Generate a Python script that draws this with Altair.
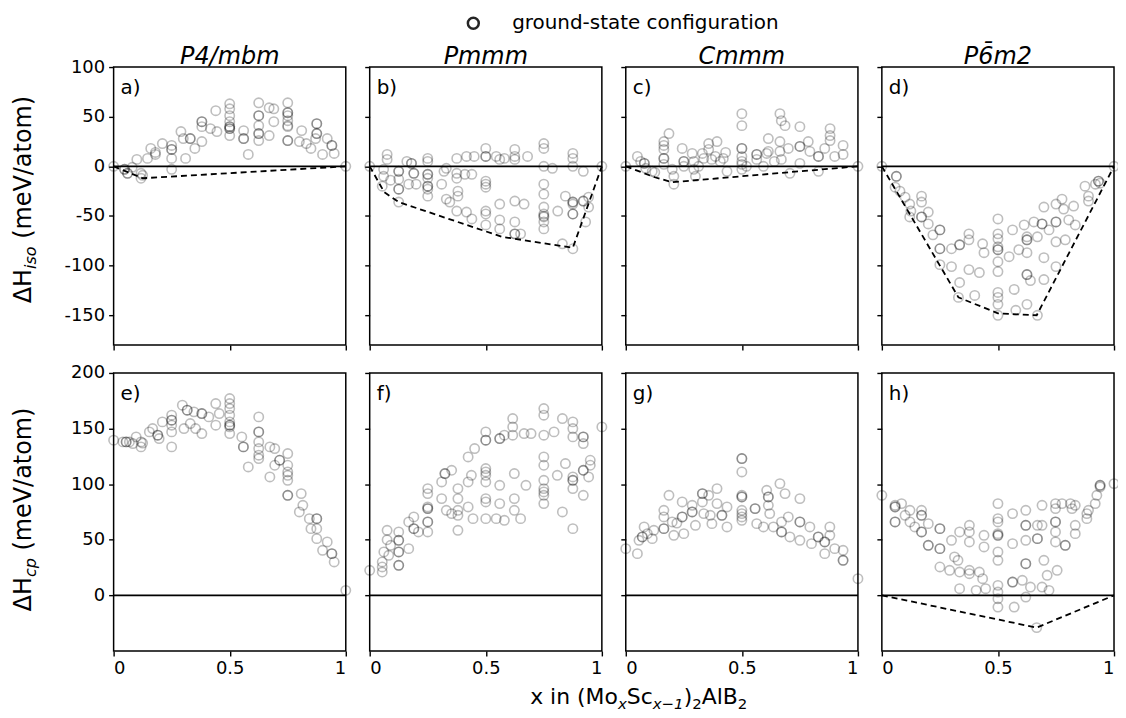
import altair as alt
import pandas as pd

FONT = "DejaVu Sans"

# ---------------- data (x = composition, y = meV/atom) ----------------
pts_a = [(0,0),(0.047,-3),(0.047,-3),(0.06,-7),(0.06,-7),(0.08,-1),(0.10,7),(0.118,-12),(0.118,-7),(0.125,-9),
         (0.146,8),(0.16,18),(0.18,12),(0.18,14),(0.21,23),(0.25,21),(0.25,17),(0.25,17),(0.25,8),(0.25,-3),
         (0.29,35),(0.30,28),(0.31,8),(0.33,28),(0.33,28),(0.35,18),(0.38,45),(0.38,45),(0.38,40),(0.38,25),
         (0.417,38),(0.44,56),(0.445,35),(0.5,63),(0.5,58),(0.5,51),(0.5,45),(0.5,40),(0.5,40),(0.5,38),(0.5,38),
         (0.5,31),(0.56,28),(0.56,28),(0.56,36),(0.58,12),(0.625,64),(0.625,51),(0.625,51),(0.625,41),(0.625,33),
         (0.625,33),(0.625,26),(0.67,59),(0.69,58),(0.67,31),(0.69,45),(0.75,64),(0.75,54),(0.75,54),(0.75,51),
         (0.75,46),(0.75,41),(0.75,40),(0.75,26),(0.75,26),(0.81,36),(0.80,25),(0.83,23),(0.85,18),(0.875,43),
         (0.875,43),(0.875,33),(0.875,33),(0.87,28),(0.92,28),(0.94,21),(0.94,21),(0.95,13),(0.90,12),(1,0)]
pts_b = [(0,0),(0.075,12),(0.075,7),(0.06,-3),(0.06,-10),(0.054,-20),(0.09,-14),(0.125,-5),(0.125,-5),(0.125,-13),
         (0.125,-23),(0.125,-23),(0.125,-36),(0.16,5),(0.18,3),(0.18,3),(0.19,-7),(0.19,-7),(0.168,-18),(0.2,-18),
         (0.25,8),(0.25,5),(0.25,-8),(0.25,-8),(0.25,-12),(0.25,-20),(0.25,-20),(0.25,-23),(0.25,-30),(0.31,-18),
         (0.32,-5),(0.33,-2),(0.33,-33),(0.345,-36),(0.375,8),(0.375,-7),(0.375,-12),(0.38,-25),(0.38,-30),
         (0.375,-45),(0.417,10),(0.41,-8),(0.417,-46),(0.44,-8),(0.44,-53),(0.45,10),(0.5,18),(0.5,10),(0.5,10),
         (0.5,-15),(0.5,-18),(0.5,-21),(0.5,-45),(0.5,-48),(0.5,-59),(0.545,10),(0.56,7),(0.56,-38),(0.56,-54),
         (0.56,-63),(0.58,8),(0.625,17),(0.625,10),(0.625,7),(0.625,-35),(0.625,-56),(0.625,-68),(0.625,-68),
         (0.65,-68),(0.665,-38),(0.68,10),(0.75,23),(0.75,18),(0.75,0),(0.75,-18),(0.75,-28),(0.75,-41),(0.75,-48),
         (0.75,-50),(0.75,-51),(0.75,-56),(0.75,-63),(0.787,-2),(0.81,-45),(0.83,-78),(0.843,-30),(0.875,13),
         (0.875,8),(0.875,0),(0.875,-36),(0.875,-36),(0.875,-38),(0.875,-48),(0.875,-48),(0.875,-83),(0.92,-5),
         (0.92,-35),(0.92,-35),(0.93,-56),(0.943,-41),(0.943,-31),(1,0)]
pts_c = [(0,0),(0.05,10),(0.064,5),(0.08,3),(0.08,3),(0.086,-2),(0.114,-5),(0.125,-6),(0.164,8),(0.164,8),
         (0.164,17),(0.164,21),(0.164,25),(0.186,33),(0.164,2),(0.2,-3),(0.207,-10),(0.207,-18),(0.243,18),
         (0.25,5),(0.25,5),(0.25,0),(0.286,13),(0.293,5),(0.293,-3),(0.3,-10),(0.314,0),(0.33,13),(0.336,8),
         (0.357,23),(0.357,17),(0.37,7),(0.386,10),(0.393,25),(0.407,5),(0.42,8),(0.436,-5),(0.43,14),(0.5,53),
         (0.5,41),(0.5,18),(0.5,18),(0.5,10),(0.5,5),(0.5,2),(0.5,-3),(0.52,0),(0.564,12),(0.564,12),(0.564,7),
         (0.593,0),(0.607,13),(0.614,28),(0.614,15),(0.64,5),(0.664,53),(0.67,46),(0.686,41),(0.664,25),
         (0.664,15),(0.67,7),(0.7,18),(0.707,-7),(0.75,40),(0.75,20),(0.75,20),(0.75,3),(0.786,25),(0.793,15),
         (0.83,10),(0.83,10),(0.83,-5),(0.857,18),(0.88,38),(0.88,31),(0.88,26),(0.9,10),(0.936,21),(0.936,12),(1,0)]
pts_d = [(0,0),(0.0625,-10),(0.0625,-10),(0.057,-21),(0.078,-25),(0.1,-31),(0.12,-38),(0.12,-51),(0.125,-45),
         (0.171,-30),(0.171,-36),(0.171,-51),(0.171,-51),(0.2,-46),(0.2,-58),(0.22,-69),(0.25,-64),(0.25,-64),
         (0.25,-83),(0.25,-83),(0.25,-99),(0.3,-83),(0.3,-101),(0.335,-79),(0.335,-79),(0.335,-117),(0.33,-132),
         (0.375,-68),(0.375,-74),(0.375,-104),(0.4,-130),(0.42,-107),(0.434,-78),(0.44,-87),(0.5,-53),(0.5,-68),
         (0.5,-73),(0.5,-81),(0.5,-84),(0.5,-84),(0.5,-96),(0.5,-106),(0.5,-127),(0.5,-132),(0.5,-139),(0.5,-150),
         (0.548,-91),(0.563,-64),(0.57,-124),(0.577,-145),(0.59,-84),(0.613,-59),(0.625,-71),(0.625,-74),
         (0.625,-74),(0.625,-87),(0.625,-109),(0.625,-109),(0.625,-139),(0.64,-115),(0.655,-56),(0.67,-71),
         (0.67,-150),(0.698,-41),(0.69,-58),(0.69,-58),(0.698,-92),(0.698,-114),(0.72,-64),(0.75,-38),(0.75,-56),
         (0.75,-56),(0.75,-76),(0.75,-101),(0.776,-33),(0.783,-43),(0.79,-74),(0.805,-54),(0.826,-40),(0.833,-59),
         (0.875,-20),(0.89,-30),(0.89,-35),(0.92,-18),(0.933,-15),(0.933,-15),(0.94,-17),(1,0)]
pts_e = [(0,139.5),(0.04,138),(0.054,138),(0.054,138),(0.068,138),(0.083,136.5),(0.097,142.5),(0.118,138),
         (0.118,133.5),(0.125,137),(0.154,147),(0.168,150),(0.19,144),(0.19,144),(0.196,141),(0.21,156),(0.25,162),
         (0.25,157.5),(0.25,157.5),(0.25,153),(0.25,147),(0.25,133.5),(0.296,171),(0.303,150),(0.317,166.5),
         (0.317,166.5),(0.33,154.5),(0.346,165),(0.353,150),(0.38,163.5),(0.38,163.5),(0.38,145.5),(0.41,160.5),
         (0.44,172.5),(0.44,153),(0.455,163.5),(0.5,177),(0.5,172.5),(0.5,168),(0.5,162),(0.5,156),(0.5,153),
         (0.5,153),(0.5,151.5),(0.5,145.5),(0.552,142.5),(0.559,133.5),(0.559,133.5),(0.58,115.5),(0.625,160.5),
         (0.625,147),(0.625,147),(0.625,138),(0.625,132),(0.625,126),(0.625,123),(0.673,133.5),(0.673,106.5),
         (0.694,132),(0.694,117),(0.715,121.5),(0.715,121.5),(0.75,127.5),(0.75,117),(0.75,111),(0.75,108),
         (0.75,103.5),(0.75,90),(0.75,90),(0.808,91.5),(0.8,75),(0.815,81),(0.843,69),(0.85,60),(0.875,69),
         (0.875,69),(0.875,60),(0.875,51),(0.9,40.5),(0.92,48),(0.94,37.5),(0.94,37.5),(0.95,30),(1,4.5)]
pts_f = [(0,22.5),(0.054,21),(0.054,25.5),(0.054,30),(0.061,39),(0.075,58.5),(0.075,50),(0.082,36),(0.09,45),
         (0.125,57),(0.125,49.5),(0.125,49.5),(0.125,39),(0.125,39),(0.125,27),(0.125,27),(0.168,42),(0.168,66),
         (0.19,70.5),(0.19,60),(0.19,60),(0.21,57),(0.25,96),(0.25,91.5),(0.25,79.5),(0.25,78),(0.25,78),(0.25,66),
         (0.25,66),(0.25,57),(0.31,102),(0.31,87),(0.324,109.5),(0.324,109.5),(0.33,76.5),(0.353,73.5),(0.353,112.5),
         (0.38,96),(0.38,87),(0.38,76.5),(0.38,72),(0.38,58.5),(0.424,124.5),(0.424,102),(0.424,79.5),(0.438,108),
         (0.445,69),(0.452,132),(0.5,147),(0.5,139.5),(0.5,139.5),(0.5,114),(0.5,111),(0.5,108),(0.5,102),(0.5,87),
         (0.5,84),(0.5,69),(0.545,69),(0.56,141),(0.56,141),(0.56,99),(0.56,82.5),(0.58,67.5),(0.58,144),
         (0.616,159),(0.616,151.5),(0.616,144),(0.623,109.5),(0.623,87),(0.623,76.5),(0.65,69),(0.665,145.5),
         (0.673,99),(0.695,145.5),(0.75,168),(0.75,162),(0.75,144),(0.75,124.5),(0.75,117),(0.75,103.5),(0.75,96),
         (0.75,93),(0.75,90),(0.75,82.5),(0.794,147),(0.808,108),(0.83,159),(0.83,75),(0.843,118.5),(0.875,156),
         (0.875,150),(0.875,142.5),(0.875,106.5),(0.875,103.5),(0.875,103.5),(0.875,96),(0.875,60),(0.92,142.5),
         (0.92,142.5),(0.92,136.5),(0.92,112.5),(0.92,112.5),(0.92,90),(0.943,106.5),(0.95,121.5),(0.95,117),(1,151.5)]
pts_g = [(0,42),(0.05,37.5),(0.057,49.5),(0.071,52.5),(0.071,52.5),(0.079,61.5),(0.093,55.5),(0.114,51),
         (0.121,58.5),(0.164,60),(0.164,60),(0.164,70.5),(0.164,76.5),(0.186,90),(0.2,66),(0.207,54),(0.22,65),
         (0.243,70.5),(0.243,70.5),(0.243,84),(0.25,55.5),(0.286,75),(0.286,75),(0.286,81),(0.3,63),(0.33,84),
         (0.33,91.5),(0.33,91.5),(0.336,73.5),(0.357,90),(0.364,72),(0.371,64.5),(0.393,96),(0.393,82.5),
         (0.414,72),(0.414,72),(0.436,61.5),(0.436,79.5),(0.5,123),(0.5,123),(0.5,111),(0.5,90),(0.5,88.5),
         (0.5,88.5),(0.5,76.5),(0.5,73.5),(0.5,70.5),(0.5,67.5),(0.557,78),(0.557,78),(0.564,64.5),(0.593,61.5),
         (0.607,94.5),(0.614,88.5),(0.614,88.5),(0.614,81),(0.62,73.5),(0.636,61.5),(0.664,100.5),(0.671,57),
         (0.671,57),(0.671,66),(0.686,91.5),(0.7,70.5),(0.707,52.5),(0.75,87),(0.75,66),(0.75,66),(0.75,49.5),
         (0.793,61.5),(0.8,46.5),(0.829,52.5),(0.829,52.5),(0.857,48),(0.857,48),(0.857,37.5),(0.879,61.5),
         (0.879,54),(0.9,42),(0.936,40.5),(0.936,31.5),(0.936,31.5),(1,15)]
pts_h = [(0,90),(0.057,81),(0.057,79.5),(0.057,79.5),(0.057,66),(0.057,66),(0.085,82.5),(0.1,72),(0.121,76.5),
         (0.121,66),(0.142,61.5),(0.171,76.5),(0.171,72),(0.171,72),(0.171,57),(0.171,57),(0.2,64.5),(0.2,45),
         (0.2,45),(0.25,60),(0.25,60),(0.25,42),(0.25,42),(0.25,25.5),(0.292,22.5),(0.3,49.5),(0.313,34.5),
         (0.328,31.5),(0.335,57),(0.335,21),(0.335,6),(0.377,63),(0.377,57),(0.377,48),(0.377,22.5),(0.377,19.5),
         (0.406,4.5),(0.42,21),(0.434,15),(0.44,54),(0.44,43.5),(0.447,6),(0.5,82.5),(0.5,69),(0.5,66),(0.5,55.5),
         (0.5,54),(0.5,54),(0.5,39),(0.5,31.5),(0.5,9),(0.5,3),(0.5,-3),(0.5,-10.5),(0.563,73.5),(0.563,46.5),
         (0.563,12),(0.563,12),(0.57,-10.5),(0.605,13.5),(0.62,76.5),(0.62,63),(0.62,63),(0.62,49.5),(0.62,28.5),
         (0.62,28.5),(0.62,-1.5),(0.64,7.5),(0.667,-29),(0.67,63),(0.67,51),(0.67,51),(0.69,63),(0.69,81),(0.69,7.5),
         (0.698,31.5),(0.712,18),(0.72,4.5),(0.748,82.5),(0.748,78),(0.748,66),(0.748,66),(0.748,57),(0.748,48),
         (0.755,22.5),(0.776,82.5),(0.79,45),(0.79,45),(0.812,82.5),(0.819,78),(0.833,81),(0.833,63),(0.833,55.5),
         (0.883,73.5),(0.883,69),(0.89,76.5),(0.919,82.5),(0.926,90),(0.94,97.5),(0.94,99),(0.94,99),(1,100.5)]

# convex hulls (dashed)
hull_a = [(0, 0), (0.125, -12), (1, 0)]
hull_b = [(0, 0), (0.0625, -26), (0.125, -36), (0.57, -71), (0.875, -82), (1, 0)]
hull_c = [(0, 0), (0.125, -11), (0.2, -16), (1, 0)]
hull_d = [(0, 0), (0.33, -132), (0.5, -148), (0.667, -150), (1, 0)]
hull_h = [(0, 0), (0.667, -29), (1, 0)]

panel_labels = ["a)", "b)", "c)", "d)", "e)", "f)", "g)", "h)"]
col_titles = ["P4/mbm", "Pmmm", "Cmmm", "P6\u0304m2"]
x_ticks = [0, 0.5, 1]
iso_ticks = [-150, -100, -50, 0, 50, 100]
cp_ticks = [0, 50, 100, 150, 200]
iso_domain = [-180, 100]
cp_domain = [-50, 200]
legend_text = "ground-state configuration"
# (text, subscript?) runs of the axis titles
x_title_runs = [("x in (Mo", False), ("x", True), ("Sc", False), ("x\u22121", True), (")", False),
                ("2", True), ("AlB", False), ("2", True)]
y_title_iso = [("\u0394H", False), ("iso", True), (" (meV/atom)", False)]
y_title_cp = [("\u0394H", False), ("cp", True), (" (meV/atom)", False)]

W, H = 233, 279
SPACE_X, SPACE_Y = 24, 28

# DejaVu Sans advance widths (em)
ADV = {" ": .318, "(": .390, ")": .390, "x": .592, "i": .278, "n": .634, "M": .863, "o": .612, "S": .635,
       "c": .550, "A": .684, "l": .278, "B": .686, "2": .636, "1": .636, "\u2212": .838, "\u0394": .684,
       "H": .752, "m": .974, "e": .615, "V": .684, "/": .337, "a": .613, "t": .392, "p": .635, "s": .521}


def tw(s, fs):
    return sum(ADV.get(ch, .6) for ch in s) * fs


def text_layer(s, x, y, size, align="left", baseline="alphabetic", angle=0, style="normal"):
    kw = dict(align=align, baseline=baseline, fontSize=size, font=FONT, color="black", fontStyle=style)
    if angle:
        kw["angle"] = angle
    return alt.Chart(pd.DataFrame({"t": [s]})).mark_text(**kw).encode(
        text="t:N", x=alt.value(x), y=alt.value(y))


def run_layers(runs, cx, cy, fs, fsub, shift, vertical=False):
    widths = [tw(s.lstrip(), fsub if sub else fs) + (tw(" ", fs) if s.startswith(" ") else 0)
              for s, sub in runs]
    total = sum(widths)
    out = []
    pos = -total / 2
    for (s, sub), w in zip(runs, widths):
        lead = tw(" ", fs) if s.startswith(" ") else 0
        size = fsub if sub else fs
        style = "italic" if (sub and s not in ("2",)) else "normal"
        if vertical:
            out.append(text_layer(s.lstrip(), cx + (shift if sub else 0), cy - (pos + lead), size,
                                  angle=270, style=style))
        else:
            out.append(text_layer(s.lstrip(), cx + pos + lead, cy + (shift if sub else 0), size, style=style))
        pos += w
    return out


def make_panel(pts, hull, idx):
    row, col = divmod(idx, 4)
    ydom = iso_domain if row == 0 else cp_domain
    yt = iso_ticks if row == 0 else cp_ticks
    xsc = alt.Scale(domain=[0, 1], nice=False, zero=False)
    ysc = alt.Scale(domain=ydom, nice=False, zero=False)
    xaxis = alt.Axis(values=x_ticks, format="~g", labels=(row == 1), title=None)
    yaxis = alt.Axis(values=yt, labels=(col == 0), labelExpr="'' + datum.value", title=None)
    X = lambda: alt.X("x:Q", scale=xsc, axis=xaxis)
    Y = lambda: alt.Y("y:Q", scale=ysc, axis=yaxis)
    df = pd.DataFrame(pts, columns=["x", "y"])
    layers = [
        alt.Chart(df).mark_point(shape="circle", filled=False, size=88, strokeWidth=1.6,
                                 color="black", opacity=0.25).encode(x=X(), y=Y()),
        alt.Chart(pd.DataFrame({"y": [0]})).mark_rule(color="black", strokeWidth=1.8).encode(y=Y()),
    ]
    if hull is not None:
        hdf = pd.DataFrame(hull, columns=["x", "y"])
        layers.append(alt.Chart(hdf).mark_line(color="black", strokeDash=[6, 4], strokeWidth=1.8).encode(
            x=X(), y=Y()))
    layers.append(text_layer(panel_labels[idx], 7, 27, 20))
    if row == 0:
        layers.append(text_layer(col_titles[col], W / 2, -3, 24, align="center", style="italic"))
    if idx == 1:
        leg = alt.Chart(pd.DataFrame({"k": [1]})).mark_point(
            shape="circle", filled=False, size=120, strokeWidth=2.5, color="black", opacity=0.85).encode(
            x=alt.value(104), y=alt.value(-44))
        layers.append(leg)
        layers.append(text_layer(legend_text, 143, -44, 20, baseline="middle"))
    if col == 0:
        if row == 0:
            layers += run_layers(y_title_iso, -83, 133, 24, 16, 5, vertical=True)
        else:
            layers += run_layers(y_title_cp, -83, 137, 24, 16, 5, vertical=True)
    if idx == 5:
        layers += run_layers(x_title_runs, 270, 332, 22, 15, 5)
    return alt.layer(*layers).properties(width=W, height=H)


all_pts = [pts_a, pts_b, pts_c, pts_d, pts_e, pts_f, pts_g, pts_h]
all_hulls = [hull_a, hull_b, hull_c, hull_d, None, None, None, hull_h]
panels = [make_panel(p, h, i) for i, (p, h) in enumerate(zip(all_pts, all_hulls))]

chart = alt.concat(*panels, columns=4, spacing=alt.RowColnumber(row=SPACE_Y, column=SPACE_X),
                   bounds="flush").properties(
    padding={"left": 3, "top": 2, "right": -5, "bottom": -1}
).configure_view(stroke="black", strokeWidth=1.5).configure_axis(
    grid=False, domain=False, tickColor="black", tickSize=5, tickWidth=1.4,
    labelFont=FONT, labelFontSize=18, labelColor="black", labelPadding=4
)

chart.save("out.html", embed_options={"renderer": "svg", "actions": False})
